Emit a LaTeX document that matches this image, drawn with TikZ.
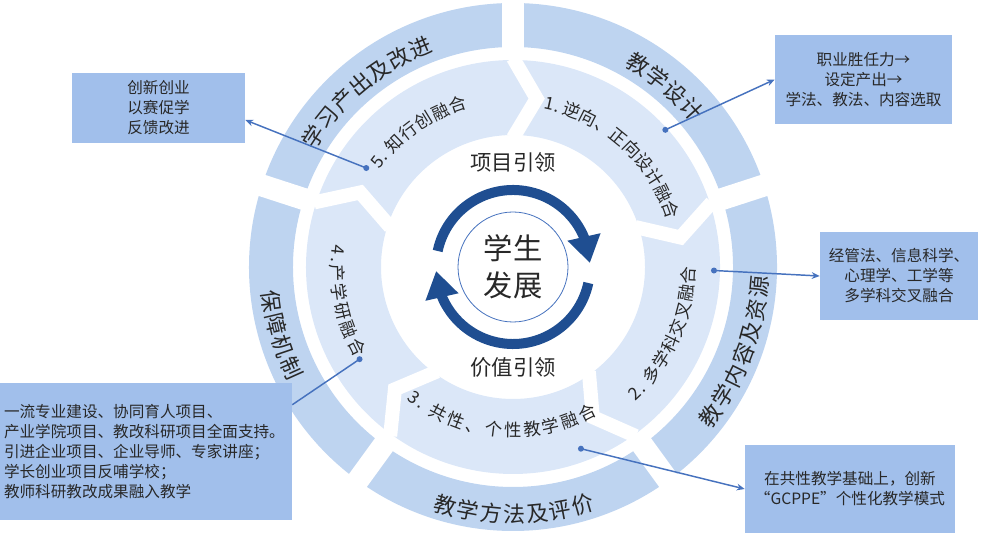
\documentclass[tikz,border=0pt]{standalone}
\usepackage{fontspec}
\setmainfont{Noto Sans CJK SC}
\usetikzlibrary{calc,arrows.meta,bending,decorations.text}
\definecolor{ringblue}{RGB}{190,212,240}
\definecolor{segblue}{RGB}{219,231,248}
\definecolor{boxblue}{RGB}{161,191,235}
\definecolor{arcblue}{RGB}{31,78,145}
\definecolor{lineblue}{RGB}{70,114,190}
\definecolor{txtgray}{RGB}{40,40,40}
\newcommand\bandfont[1]{\fontsize{16.5}{18}\selectfont\kern#1}
\newcommand\segfont[1]{\fontsize{13}{15}\selectfont\kern#1}
\tikzset{
  infobox/.style={fill=boxblue, text=txtgray, align=center, inner sep=0pt,
    font=\fontsize{11.7}{15}\selectfont},
  callout/.style={draw=lineblue, line width=1.1pt, -{Stealth[length=6pt,width=5pt]}},
  ringtext/.style={decorate, decoration={text along path, text align=center, text color=txtgray}},
}

\begin{document}
\begin{tikzpicture}[x=0.75pt,y=0.75pt]
  \useasboundingbox (0,0) rectangle (981,535);
  \begin{scope}[shift={(513,268)}]
    % outer ring
    \foreach \a in {90,18,-54,-126,-198}
      \fill[ringblue] (\a:264) arc[start angle=\a, end angle=\a-72, radius=264]
        -- (\a-72:220) arc[start angle=\a-72, end angle=\a, radius=220] -- cycle;
    % chevron ring
    \foreach \a in {90,18,-54,-126,-198}
      \fill[segblue] (\a:207) arc[start angle=\a, end angle=\a-72, radius=207]
        -- (\a-80:170) -- (\a-72:132) arc[start angle=\a-72, end angle=\a, radius=132]
        -- (\a-8:170) -- cycle;
    % gaps
    \foreach \a in {90,18,-54,-126,-198} {
      \draw[white, line width=16.5pt] (\a:216) -- (\a:268);
      \draw[white, line width=10.5pt] (\a:209) -- (\a-8:170) -- (\a:129);
    }
    % ring labels
    \path[ringtext, decoration={text={|\bandfont{0.5pt}|学习产出及改进}}] (175:230) arc[start angle=175, end angle=85, radius=230];
    \path[ringtext, decoration={text={|\bandfont{0.5pt}|教学设计}}] (95:230) arc[start angle=95, end angle=5, radius=230];
    \path[ringtext, decoration={text={|\bandfont{1.5pt}|教学内容及资源}}] (-66:255) arc[start angle=-66, end angle=24, radius=255];
    \path[ringtext, decoration={text={|\bandfont{1.5pt}|教学方法及评价}}] (-135:256) arc[start angle=-135, end angle=-45, radius=256];
    \path[ringtext, decoration={text={|\bandfont{1.5pt}|保障机制}}] (151:252) arc[start angle=151, end angle=241, radius=252];
    \path[ringtext, decoration={text={|\segfont{0pt}|1. 逆向、正向设计融合}}] (108:161) arc[start angle=108, end angle=-12, radius=161];
    \path[ringtext, decoration={text={|\segfont{1pt}|2. 多学科交叉融合}}] (-84:182) arc[start angle=-84, end angle=36, radius=182];
    \path[ringtext, decoration={text={|\segfont{2pt}|3. 共性、个性教学融合}}] (-155:170) arc[start angle=-155, end angle=-35, radius=170];
    \path[ringtext, decoration={text={|\segfont{2pt}|4.产学研融合}}] (131:182) arc[start angle=131, end angle=251, radius=182];
    \path[ringtext, decoration={text={|\segfont{0.5pt}|5. 知行创融合}}] (185:165) arc[start angle=185, end angle=65, radius=165];
    % centre
    \draw[arcblue, line width=7.5pt, -{Triangle[width=24pt,length=20pt,flex]}]
      (168:77) arc[start angle=168, end angle=3, radius=77];
    \draw[arcblue, line width=7.5pt, -{Triangle[width=24pt,length=20pt,flex]}]
      (-12:77) arc[start angle=-12, end angle=-177, radius=77];
    \node (core) [circle, draw=lineblue, line width=0.6pt, fill=white, minimum size=82.5pt,
      inner sep=0pt, align=center, text=txtgray, font=\fontsize{22}{28}\selectfont] at (0,0) {学生\\发展};
    \node (lead1) [text=txtgray, font=\fontsize{16}{18}\selectfont] at (0,105) {项目引领};
    \node (lead2) [text=txtgray, font=\fontsize{16}{18}\selectfont] at (0,-100) {价值引领};
    \coordinate (dotA) at (146:177);
    \coordinate (dotB) at (42:205);
    \coordinate (dotC) at (-1:201);
    \coordinate (dotD) at (211:179);
    \coordinate (dotE) at (-69.5:194);
  \end{scope}

  % side boxes
  \node (boxA) [infobox, minimum width=129.75pt, minimum height=52.5pt] at (158.5,427)
    {创新创业\\以赛促学\\反馈改进};
  \node (boxB) [infobox, minimum width=132.75pt, minimum height=66.75pt] at (863.5,455.5)
    {职业胜任力→\\设定产出→\\学法、教法、内容选取};
  \node (boxC) [infobox, minimum width=118.5pt, minimum height=66pt] at (899,259)
    {经管法、信息科学、\\心理学、工学等\\多学科交叉融合};
  \node (boxD) [infobox, align=left, text width=213pt, inner xsep=3pt, minimum height=102.75pt] at (146,83.5)
    {一流专业建设、协同育人项目、\\产业学院项目、教改科研项目全面支持。\\引进企业项目、企业导师、专家讲座；\\学长创业项目反哺学校；\\教师科研教改成果融入教学};
  \node (boxE) [infobox, minimum width=157.5pt, minimum height=66pt] at (850,46)
    {在共性教学基础上，创新\\“GCPPE”个性化教学模式};

  % callouts
  \foreach \d in {dotA,dotB,dotC,dotD,dotE}
    \fill[lineblue] (\d) circle (3);
  \draw[callout] (dotA) -- ($(boxA.south east)!0.33!(boxA.north east)$);
  \draw[callout] (dotB) -- (boxB.west);
  \draw[callout] (dotC) -- (boxC.west);
  \draw[callout, -] (dotD) -- ($(boxD.south east)!0.84!(boxD.north east)$);
  \draw[callout] (dotE) -- (boxE.west);
\end{tikzpicture}
\end{document}
